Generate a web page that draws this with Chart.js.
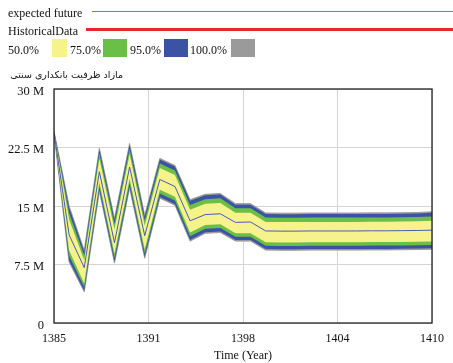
<!DOCTYPE html>
<html>
<head>
<meta charset="utf-8">
<script src="https://cdn.jsdelivr.net/npm/chart.js@4.4.1/dist/chart.umd.min.js"></script>
<style>
  html, body { margin: 0; padding: 0; background: #fff; }
  #wrap { position: relative; width: 453px; height: 363px; overflow: hidden; font-family: "Liberation Serif", "Times New Roman", serif; font-size: 12px; color: #111; }
  #wrap canvas { position: absolute; left: 0; top: 0; }
  .t { position: absolute; white-space: nowrap; line-height: 14px; }
  .ln { position: absolute; }
  .sw { position: absolute; top: 39px; height: 18px; }
</style>
</head>
<body>
<div id="wrap">
  <canvas id="chart" width="453" height="363"></canvas>
  <span class="t" style="left:8px; top:6px;">expected future</span>
  <div class="ln" style="left:92px; top:11px; width:361px; height:1px; background:#6878cc;"></div>
  <span class="t" style="left:8px; top:24px;">HistoricalData</span>
  <div class="ln" style="left:86px; top:28px; width:367px; height:3px; background:#e8262b;"></div>
  <span class="t" style="left:8px; top:43px;">50.0%</span>
  <div class="sw" style="left:52px; width:15px; background:#f6f28c;"></div>
  <span class="t" style="left:70px; top:43px;">75.0%</span>
  <div class="sw" style="left:103px; width:24px; background:#6cbf46;"></div>
  <span class="t" style="left:130px; top:43px;">95.0%</span>
  <div class="sw" style="left:164px; width:24px; background:#3a54a3;"></div>
  <span class="t" style="left:190px; top:43px;">100.0%</span>
  <div class="sw" style="left:231px; width:24px; background:#9a9a9a;"></div>
  <div class="t" style="left:8px; width:115px; top:68px; direction:rtl; text-align:right; font-family:'DejaVu Sans', sans-serif; font-size:9.5px;">مازاد ظرفیت بانکداری سنتی</div>
</div>
<script>
// years on the time axis
const years = [1385, 1386, 1387, 1388, 1389, 1390, 1391, 1392, 1393, 1394, 1395, 1396, 1397,
               1398, 1399, 1400, 1401, 1402, 1403, 1404, 1405, 1406, 1407, 1408, 1409, 1410];

// sensitivity bands (millions)
const upper100 = [24.6, 15.0, 9.3, 22.4, 13.4, 23.0, 13.8, 21.1, 20.2, 15.8, 16.5, 16.6, 15.3,
                  15.3, 14.1, 14.08, 14.08, 14.1, 14.1, 14.1, 14.1, 14.12, 14.12, 14.14, 14.17, 14.25];
const upper95  = [24.59, 14.81, 9.16, 22.25, 13.25, 22.85, 13.65, 20.96, 20.06, 15.66, 16.37, 16.47, 15.17,
                  15.17, 13.97, 13.95, 13.95, 13.97, 13.97, 13.97, 13.97, 13.99, 13.99, 14.01, 14.04, 14.12];
const upper75  = [24.56, 14.1, 8.64, 21.71, 12.69, 22.29, 13.11, 20.46, 19.56, 15.14, 15.88, 15.98, 14.7,
                  14.7, 13.51, 13.49, 13.49, 13.51, 13.51, 13.51, 13.51, 13.53, 13.53, 13.55, 13.58, 13.65];
const upper50  = [24.53, 13.27, 8.03, 21.08, 12.03, 21.63, 12.48, 19.88, 18.98, 14.53, 15.3, 15.4, 14.15,
                  14.15, 12.96, 12.94, 12.94, 12.96, 12.96, 12.96, 12.96, 12.98, 12.98, 13.0, 13.03, 13.1];
const median   = [24.45, 11.3, 7.1, 19.4, 10.3, 20.0, 11.2, 18.4, 17.5, 13.1, 13.9, 14.0, 12.9,
                  12.95, 11.8, 11.78, 11.78, 11.8, 11.8, 11.8, 11.8, 11.82, 11.82, 11.84, 11.86, 11.9];
const lower50  = [24.36, 9.31, 5.11, 18.06, 8.9, 18.5, 9.46, 17.07, 16.17, 11.61, 12.55, 12.65, 11.51,
                  11.51, 10.35, 10.33, 10.33, 10.35, 10.35, 10.35, 10.35, 10.37, 10.37, 10.39, 10.42, 10.46];
const lower75  = [24.33, 8.63, 4.61, 17.53, 8.36, 17.96, 8.93, 16.59, 15.69, 11.11, 12.08, 12.18, 11.05,
                  11.05, 9.9, 9.88, 9.88, 9.9, 9.9, 9.9, 9.9, 9.92, 9.92, 9.94, 9.97, 10.0];
const lower95  = [24.31, 7.99, 4.14, 17.05, 7.85, 17.45, 8.45, 16.14, 15.24, 10.64, 11.64, 11.74, 10.63,
                  10.63, 9.48, 9.46, 9.46, 9.48, 9.48, 9.48, 9.48, 9.5, 9.5, 9.52, 9.55, 9.58];
const lower100 = [24.3, 7.8, 4.0, 16.9, 7.7, 17.3, 8.3, 16.0, 15.1, 10.5, 11.5, 11.6, 10.5,
                  10.5, 9.35, 9.33, 9.33, 9.35, 9.35, 9.35, 9.35, 9.37, 9.37, 9.39, 9.42, 9.45];

// axis ticks
const xTickValues = [1385, 1391.25, 1397.5, 1403.75, 1410];
const xTickLabels = ['1385', '1391', '1398', '1404', '1410'];
const yTickValues = [0, 7.5, 15, 22.5, 30];
const yTickLabels = ['0', '7.5 M', '15 M', '22.5 M', '30 M'];

const pts = arr => years.map((yr, i) => ({ x: yr, y: arr[i] }));

const band = (arr, order, color, target) => ({
    data: pts(arr),
    order: order,
    borderWidth: color === '#9a9a9a' ? 1 : 0,
    borderColor: color,
    backgroundColor: color,
    pointRadius: 0,
    tension: 0,
    fill: target === undefined ? false : { target: target }
});

const frame = {
    id: 'frame',
    afterDatasetsDraw(chart) {
        const a = chart.chartArea;
        const c = chart.ctx;
        c.save();
        c.strokeStyle = '#222';
        c.lineWidth = 1.3;
        c.strokeRect(a.left, a.top, a.right - a.left, a.bottom - a.top);
        c.restore();
    }
};

new Chart(document.getElementById('chart'), {
    type: 'line',
    data: {
        datasets: [
            band(upper100, 5, '#9a9a9a'),
            band(lower100, 5, '#9a9a9a', 0),
            band(upper95, 4, '#3a54a3'),
            band(lower95, 4, '#3a54a3', 2),
            band(upper75, 3, '#6cbf46'),
            band(lower75, 3, '#6cbf46', 4),
            band(upper50, 2, '#f6f28c'),
            band(lower50, 2, '#f6f28c', 6),
            {
                data: pts(median),
                order: 1,
                borderColor: '#4a5bb4',
                borderWidth: 1,
                pointRadius: 0,
                fill: false
            }
        ]
    },
    options: {
        responsive: false,
        animation: false,
        devicePixelRatio: 1,
        layout: { padding: { top: 89, right: 15, left: 0, bottom: 0 } },
        plugins: {
            legend: { display: false },
            tooltip: { enabled: false }
        },
        scales: {
            x: {
                type: 'linear',
                min: 1385,
                max: 1410,
                afterBuildTicks: scale => { scale.ticks = xTickValues.map(v => ({ value: v })); },
                afterFit: scale => { scale.height = 40; },
                ticks: {
                    autoSkip: false,
                    maxRotation: 0,
                    padding: 9,
                    color: '#111',
                    font: { family: 'Liberation Serif', size: 12 },
                    callback: (v, i) => xTickLabels[i]
                },
                grid: { color: '#d4d4d4', drawTicks: false },
                border: { display: false },
                title: {
                    display: true,
                    text: 'Time (Year)',
                    color: '#111',
                    font: { family: 'Liberation Serif', size: 12 },
                    padding: { top: 0, bottom: 0 }
                }
            },
            y: {
                min: 0,
                max: 30,
                afterBuildTicks: scale => { scale.ticks = yTickValues.map(v => ({ value: v })); },
                afterFit: scale => { scale.width = 54; },
                ticks: {
                    padding: 10,
                    labelOffset: 2.5,
                    color: '#111',
                    font: { family: 'Liberation Serif', size: 12.5 },
                    callback: (v, i) => yTickLabels[i]
                },
                grid: { color: '#d4d4d4', drawTicks: false },
                border: { display: false }
            }
        }
    },
    plugins: [frame]
});
</script>
</body>
</html>
